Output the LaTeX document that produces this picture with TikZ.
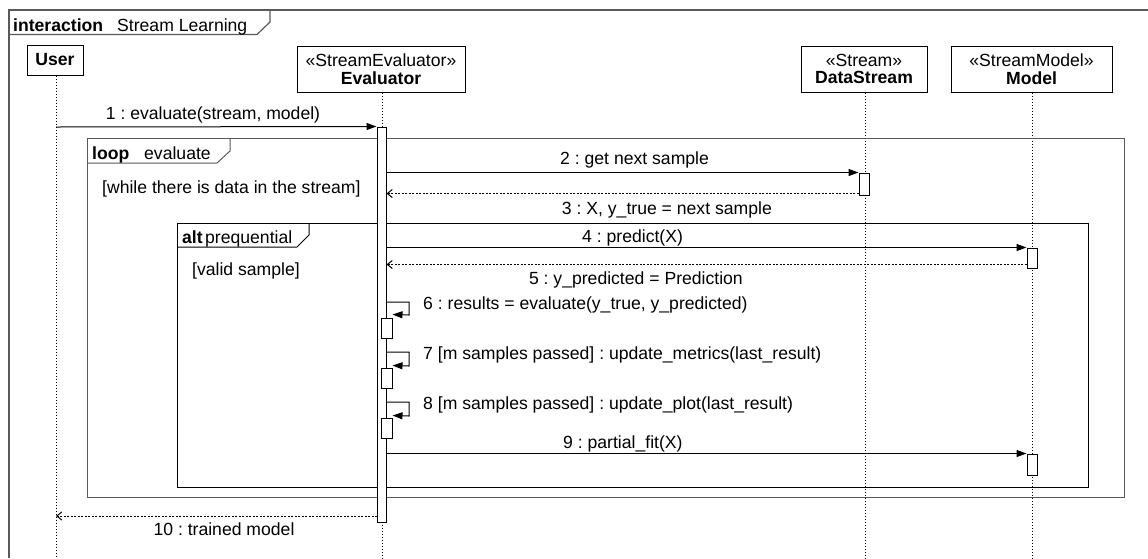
\documentclass[tikz,border=0pt]{standalone}
\usepackage{fontspec}
\setmainfont{Liberation Sans}
\usetikzlibrary{arrows.meta,calc}
\definecolor{framegray}{gray}{0.35}
\frenchspacing
\begin{document}
\begin{tikzpicture}[x=1pt,y=-1pt,
  every node/.style={font=\fontsize{17.6}{18.5}\selectfont},
  txt/.style={inner sep=0pt},
  head/.style={draw,line width=1pt,fill=white,inner sep=0pt,align=center},
  life/.style={line width=1pt,dash pattern=on 1.5pt off 1.5pt},
  act/.style={draw,line width=1pt,fill=white,inner sep=0pt,minimum width=10pt},
  msg/.style={line width=1pt,-{Triangle[length=10pt,width=7pt]}},
  ret/.style={line width=1pt,dash pattern=on 2pt off 1.5pt,-{Straight Barb[length=5pt,width=8pt]}},
  outerframe/.style={line width=1.2pt,draw=framegray},
  frag/.style={line width=1pt}]
\useasboundingbox (0,0) rectangle (1148,558);

% outer interaction frame
\draw[outerframe] (9,558) -- (9,10) -- (1148,10);
\draw[outerframe] (9,34.5) -- (257,34.5) -- (270,22) -- (270,10);
\node[txt,anchor=base west] (tint) at (13,31) {\textbf{interaction}};
\node[txt,anchor=base west] (tname) at (117,31) {Stream Learning};

% lifeline heads
\node[head,minimum width=56pt,minimum height=30pt] (user) at (55,60) {\textbf{User}};
\node[head,minimum width=168pt,minimum height=46pt] (eval) at (381,69) {«StreamEvaluator»\\[-1pt]\textbf{Evaluator}};
\node[head,minimum width=126pt,minimum height=46pt] (ds) at (864,69) {«Stream»\\[-1pt]\textbf{DataStream}};
\node[head,minimum width=161pt,minimum height=46pt] (model) at (1031.5,69) {«StreamModel»\\[-1pt]\textbf{Model}};

% lifeline ends
\coordinate (userend) at (56,558);
\coordinate (evalend) at (382,558);
\coordinate (dsend) at (865,558);
\coordinate (modelend) at (1032,558);
\draw[life] (user.south -| userend) -- (userend);
\draw[life] (eval.south -| evalend) -- (evalend);
\draw[life] (ds.south -| dsend) -- (dsend);
\draw[life] (model.south -| modelend) -- (modelend);

% loop fragment
\draw[frag,draw=framegray] (87,138) rectangle (1124,497);
\draw[frag,draw=framegray] (87,163) -- (217,163) -- (230,151) -- (230,138);
\node[txt,anchor=base west] (looplbl) at (92,159) {\textbf{loop}};
\node[txt,anchor=base west] (loopname) at (144,159) {evaluate};
\node[txt,anchor=base west] (loopguard) at (102,193) {[while there is data in the stream]};

% alt fragment
\draw[frag] (177,223) rectangle (1088,487);
\draw[frag] (177,247) -- (297,247) -- (309,235) -- (309,223);
\node[txt,anchor=base west] (altlbl) at (182,243) {\textbf{alt}};
\node[txt,anchor=base west] (altname) at (205,243) {prequential};
\node[txt,anchor=base west] (altguard) at (192,275) {[valid sample]};

% activations
\node[act,minimum width=9pt,minimum height=395pt] (actE) at (381.5,324.5) {};
\node[act,minimum height=22pt] (actDS) at (864,184) {};
\node[act,minimum height=20pt] (actM1) at (1032,258) {};
\node[act,minimum height=21pt] (actM2) at (1032,464.5) {};
\node[act,minimum width=11pt,minimum height=20pt] (act6) at (386.5,328) {};
\node[act,minimum width=11pt,minimum height=20pt] (act7) at (386.5,378) {};
\node[act,minimum width=11pt,minimum height=20pt] (act8) at (386.5,428) {};

% message coordinates
\coordinate (u1) at (56,127);
\coordinate (u10) at (56,516);
\coordinate (e10) at (377,516);
\coordinate (s6) at (386,302);
\coordinate (s7) at (386,352);
\coordinate (s8) at (386,402);

% messages
\draw[msg] (u1) -- (actE.north west);
\node[txt,anchor=base] (l1) at (213,119) {1 : evaluate(stream, model)};

\draw[msg] (actE.east |- actDS.north west) -- (actDS.north west);
\node[txt,anchor=base west] (l2) at (560,164) {2 : get next sample};

\draw[ret] ([yshift=2pt]actDS.south west) -- ([yshift=2pt]actE.east |- actDS.south west);
\node[txt,anchor=base east] (l3) at (772,214) {3 : X, y\_true = next sample};

\draw[msg] (actE.east |- actM1.north west) -- (actM1.north west);
\node[txt,anchor=base west] (l4) at (582,242) {4 : predict(X)};

\draw[ret] ([yshift=4pt]actM1.south west) -- ([yshift=4pt]actE.east |- actM1.south west);
\node[txt,anchor=base east] (l5) at (743,284) {5 : y\_predicted = Prediction};

\draw[msg] (s6) -- ++(23,0) -- ++(0,13) -- ([yshift=3pt]act6.north east);
\node[txt,anchor=base west] (l6) at (423,309) {6 : results = evaluate(y\_true, y\_predicted)};

\draw[msg] (s7) -- ++(23,0) -- ++(0,14) -- ([yshift=2pt]act7.north east);
\node[txt,anchor=base west] (l7) at (423,359) {7 [m samples passed] : update\_metrics(last\_result)};

\draw[msg] (s8) -- ++(23,0) -- ++(0,14) -- ([yshift=2pt]act8.north east);
\node[txt,anchor=base west] (l8) at (423,409) {8 [m samples passed] : update\_plot(last\_result)};

\draw[msg] (actE.east |- actM2.north west) -- (actM2.north west);
\node[txt,anchor=base west] (l9) at (563,448) {9 : partial\_fit(X)};

\draw[ret] (e10) -- (u10);
\node[txt,anchor=base] (l10) at (224,535) {10 : trained model};
\end{tikzpicture}
\end{document}
